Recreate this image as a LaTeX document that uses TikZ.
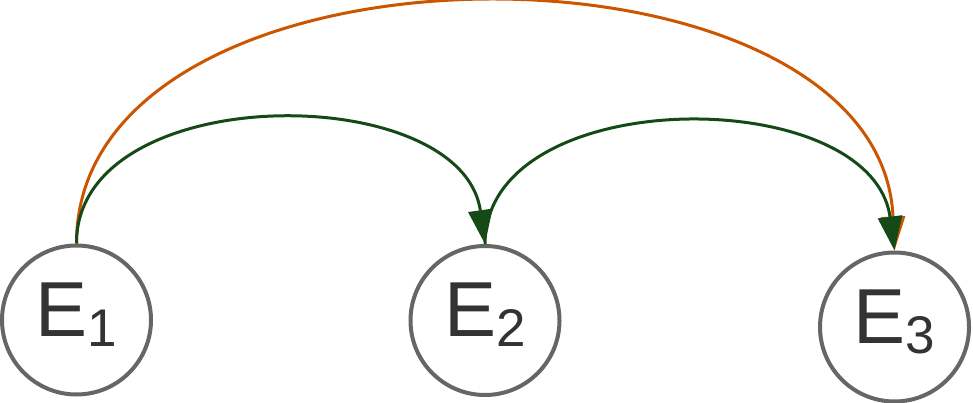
\documentclass[tikz,border=0pt]{standalone}
\usepackage{fontspec}
\setmainfont{Liberation Sans}
\usetikzlibrary{arrows.meta}
\definecolor{ringgray}{HTML}{666666}
\definecolor{txtgray}{HTML}{333333}
\definecolor{darkgreen}{HTML}{154A17}
\definecolor{burnt}{HTML}{CC5500}
\tikzset{
  ev/.style={circle, draw=ringgray, line width=4pt, fill=white, minimum size=149pt, inner sep=0pt,
    text=txtgray, text height=56pt, text depth=24pt,
    font=\fontsize{78}{78}\selectfont},
  garc/.style={draw=darkgreen, line width=3pt, -{Triangle[length=34pt,width=24pt]}},
  oarc/.style={draw=burnt, line width=3pt, -{Triangle[length=34pt,width=24pt]}},
}
\newcommand{\evlabel}[1]{E\raisebox{-10pt}{\fontsize{53}{53}\selectfont #1}}
\begin{document}
\begin{tikzpicture}[x=1pt,y=-1pt]
\useasboundingbox (0,0) rectangle (973,403);
\node[ev] (e1) at (76.5,320) {\evlabel{1}};
\node[ev] (e2) at (485,320.5) {\evlabel{2}};
\node[ev] (e3) at (894.5,327) {\evlabel{3}};
\draw[oarc] (e1.north) .. controls (76,-78) and (880,-78) .. (e3.north);
\draw[garc] (e1.north) .. controls (76,79) and (462,79) .. (e2.north);
\draw[garc] (e2.north) .. controls (485,82) and (872,82) .. (e3.north);
\end{tikzpicture}
\end{document}
